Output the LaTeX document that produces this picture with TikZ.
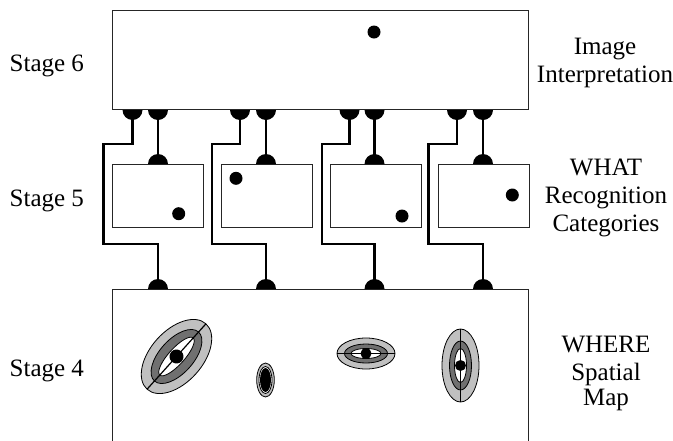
\documentclass[tikz,border=0pt]{standalone}
\usepackage{fontspec}
\setmainfont{Liberation Serif}
\newfontfamily\labelserif{Liberation Serif}
\definecolor{ringlight}{RGB}{192,192,192}
\definecolor{ringdark}{RGB}{112,112,112}
\begin{document}
\begin{tikzpicture}[x=1pt,y=-1pt,
  font=\labelserif\fontsize{25}{28}\selectfont,
  box/.style={draw=black!85, line width=1.4pt, inner sep=0pt, anchor=north west},
  wire/.style={line width=2.6pt, black},
  lbl/.style={anchor=base, inner sep=0pt},
  stagelbl/.style={anchor=base west, inner sep=0pt},
  ringedge/.style={draw=black, line width=0.8pt}]
\useasboundingbox (0,0) rectangle (673,440);
\clip (0,0) rectangle (673,440);

% ---- stage boxes ----
\node[box, minimum width=416pt, minimum height=99.5pt] (s6) at (112,9.5) {};
\node[box, minimum width=416pt, minimum height=200pt] (s4) at (112,289) {};
\node[box, minimum width=91pt, minimum height=63pt] (w1) at (112,164) {};
\node[box, minimum width=91pt, minimum height=63pt] (w2) at (221,164) {};
\node[box, minimum width=91pt, minimum height=63pt] (w3) at (329.5,164) {};
\node[box, minimum width=91pt, minimum height=63pt] (w4) at (437.5,164) {};

% ---- active cells ----
\fill (374,32) circle[radius=6.5pt];
\fill (178.7,213.7) circle[radius=6.5pt];
\fill (236,178.3) circle[radius=6.5pt];
\fill (402,216) circle[radius=6.5pt];
\fill (512.3,195) circle[radius=6.5pt];

% ---- pathways between stages ----
% group / left cup x / right cup x / turn x
\foreach \i/\a/\b/\t in {1/132.5/158/103.5, 2/240/266/212, 3/349.5/374.5/322, 4/457/483/428.5}{
  \coordinate (up\i) at (\a,110);
  \coordinate (dn\i) at (\b,110);
  \coordinate (top\i) at (\b,164);
  \coordinate (map\i) at (\b,289);
  \draw[wire] (up\i) -- ++(0,34) -| (\t,244) -| (map\i);
  \draw[wire] (dn\i) -- (top\i);
  \fill (up\i) ++(-10pt,0) arc[start angle=180,end angle=360,radius=10pt] -- cycle;
  \fill (dn\i) ++(-10pt,0) arc[start angle=180,end angle=360,radius=10pt] -- cycle;
  \fill (top\i) ++(-10pt,0) arc[start angle=180,end angle=0,radius=10pt] -- cycle;
  \fill (map\i) ++(-10pt,0) arc[start angle=180,end angle=0,radius=10pt] -- cycle;
}

% ---- spatial attention fields ----
% center / angle / outer a,b / middle a,b / inner a,b / dot radius
\foreach \cx/\cy/\ang/\oa/\ob/\ma/\mb/\ia/\ib/\dr in {
    176.5/356.5/48/44/26/33/17/25/8/7,
    366/353.5/0/29/15.5/21.5/9.5/15/5/5.5,
    460.5/365.5/90/36.5/18.5/24.5/11/17/6/5.5}{
  \begin{scope}[shift={(\cx,\cy)}, rotate=\ang]
    \filldraw[fill=ringlight, ringedge] (0,0) ellipse[x radius=\oa pt, y radius=\ob pt];
    \filldraw[fill=ringdark, ringedge] (0,0) ellipse[x radius=\ma pt, y radius=\mb pt];
    \filldraw[fill=white, ringedge] (0,0) ellipse[x radius=\ia pt, y radius=\ib pt];
    \draw[line width=1.2pt] (-\oa pt,0) -- (\oa pt,0);
    \fill (0,0) circle[radius=\dr pt];
  \end{scope}
}
\begin{scope}[shift={(265.5,380)}, rotate=90]
  \filldraw[fill=ringlight, ringedge] (0,0) ellipse[x radius=17pt, y radius=8.8pt];
  \filldraw[fill=white, ringedge] (0,0) ellipse[x radius=13.5pt, y radius=6.5pt];
  \fill (0,0) ellipse[x radius=12pt, y radius=5.5pt];
\end{scope}

% ---- labels ----
\node[stagelbl] (l6) at (9.5,71) {Stage 6};
\node[stagelbl] (l5) at (9.5,206) {Stage 5};
\node[stagelbl] (l4) at (9.5,376) {Stage 4};

\node[lbl] (r6a) at (605,54) {Image};
\node[lbl] (r6b) at (605,82) {Interpretation};
\node[lbl] (r5a) at (606,175) {WHAT};
\node[lbl] (r5b) at (606,203) {Recognition};
\node[lbl] (r5c) at (606,231) {Categories};
\node[lbl] (r4a) at (606,352) {WHERE};
\node[lbl] (r4b) at (606,380) {Spatial};
\node[lbl] (r4c) at (606,405) {Map};
\end{tikzpicture}
\end{document}
